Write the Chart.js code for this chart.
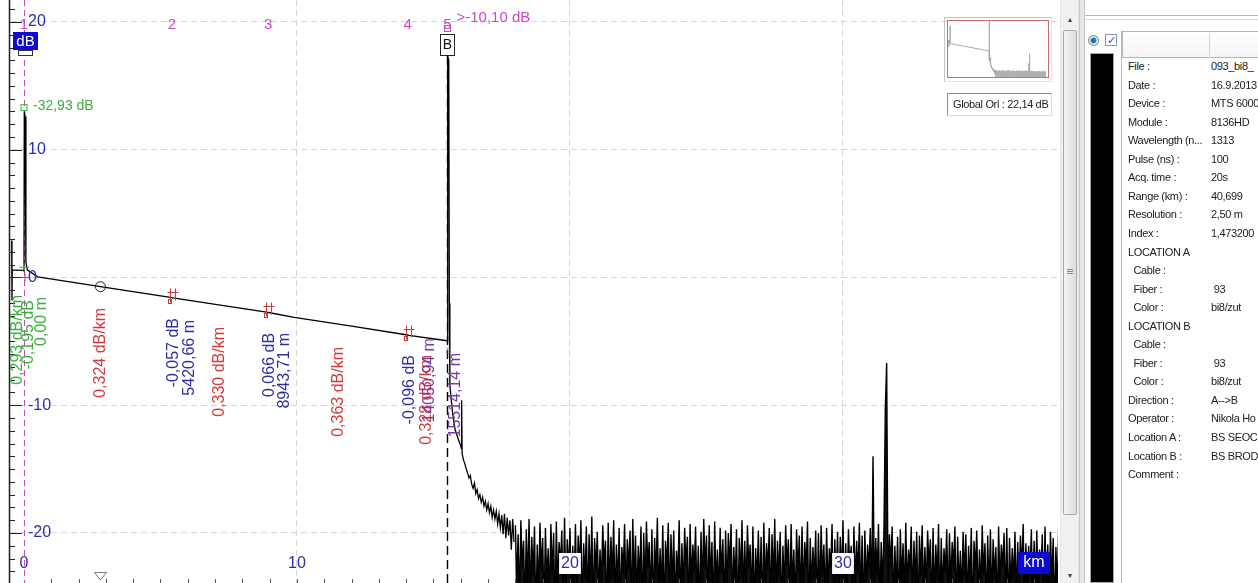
<!DOCTYPE html>
<html>
<head>
<meta charset="utf-8">
<title>OTDR trace</title>
<script src="https://cdn.jsdelivr.net/npm/chart.js@4.4.1/dist/chart.umd.min.js"></script>
<style>
  body { margin: 0; width: 1258px; height: 583px; overflow: hidden; background: #fff; position: relative; font-family: "Liberation Sans", Arial, sans-serif; }
  .abs { position: absolute; box-sizing: border-box; }
  #trace { position: absolute; left: 0; top: 0; }
  #thumbFrame { left: 944px; top: 17px; width: 108px; height: 65px; border: 1px solid #c4c4c4; border-right-color: #e4e4e4; border-bottom-color: #e4e4e4; }
  #thumbBox { left: 947px; top: 20px; width: 102px; height: 58px; border: 1px solid #cf6a6a; background: #fff; }
  #thumb { display: block; }
  #orl { left: 947px; top: 93px; width: 105px; height: 23px; border: 1px solid #8c8c8c; border-right-color: #dcdcdc; border-bottom-color: #dcdcdc; font-size: 11px; letter-spacing: -0.35px; line-height: 21px; padding-left: 5px; color: #222; white-space: nowrap; }
  #sbTrack { left: 1060px; top: 0; width: 19px; height: 583px; background: #f0f0f0; border-left: 1px solid #e4e4e4; border-right: 1px solid #e4e4e4; }
  #sbThumb { left: 1063px; top: 30px; width: 14px; height: 485px; border: 1px solid #a9a9a9; border-radius: 2px; background: linear-gradient(to right, #f6f6f6, #dcdcdc); }
  .grip { left: 1067px; width: 6px; height: 1px; background: #8a8a8a; }
  .arrow { left: 1065px; width: 10px; font-size: 7px; color: #444; text-align: center; }
  #sep { left: 1079px; top: 0; width: 6px; height: 583px; background: #e6e6e6; border-left: 1px solid #c8c8c8; border-right: 1px solid #c8c8c8; }
  #panelTop1 { left: 1085px; top: 15px; width: 173px; height: 1px; background: #b8b8b8; }
  #panelTop2 { left: 1085px; top: 19px; width: 173px; height: 1px; background: #dadada; }
  #radio { left: 1088px; top: 35px; width: 11px; height: 11px; border-radius: 50%; border: 1px solid #7a7a7a; background: radial-gradient(circle, #1f6fa8 30%, #5fb0dc 45%, #e6f2f8 55%); }
  #check { left: 1105px; top: 34px; width: 12px; height: 12px; border: 1px solid #7f98c0; background: #fff; color: #2a46c4; font-size: 11px; line-height: 11px; text-align: center; }
  #blackbar { left: 1090px; top: 53px; width: 24px; height: 530px; background: #000; border: 1px solid #a8a8a8; }
  #table { left: 1121px; top: 31px; width: 137px; height: 552px; background: #fff; border-left: 1px solid #bcbcbc; }
  #hdr { left: 1122px; top: 31px; width: 140px; height: 27px; border: 1px solid #b6b6b6; background: linear-gradient(#ffffff, #f4f4f4); }
  #hdrDiv { left: 1209px; top: 33px; width: 1px; height: 23px; background: #d4d4d4; }
  .row { left: 1128px; width: 130px; height: 18px; font-size: 11px; letter-spacing: -0.35px; line-height: 18px; color: #222; white-space: pre; overflow: hidden; }
  .val { position: absolute; left: 83px; top: 0; }
</style>
</head>
<body>
<canvas id="trace" width="1060" height="583"></canvas>
<div class="abs" id="thumbFrame"></div>
<div class="abs" id="thumbBox"><canvas id="thumb" width="100" height="56"></canvas></div>
<div class="abs" id="orl"></div>
<div class="abs" id="sbTrack"></div>
<div class="abs arrow" style="top:16px">&#9650;</div>
<div class="abs" id="sbThumb"></div>
<div class="abs grip" style="top:269px"></div>
<div class="abs grip" style="top:271px"></div>
<div class="abs grip" style="top:273px"></div>
<div class="abs arrow" style="top:572px">&#9660;</div>
<div class="abs" id="sep"></div>
<div class="abs" id="panelTop1"></div>
<div class="abs" id="panelTop2"></div>
<div class="abs" id="radio"></div>
<div class="abs" id="check">&#10003;</div>
<div class="abs" id="blackbar"></div>
<div class="abs" id="table"></div>
<div class="abs" id="hdr"></div>
<div class="abs" id="hdrDiv"></div>
<div id="rows"></div>

<script>
// fibre section of the trace, km / dB
const traceKm = [-0.45, -0.44, -0.43, -0.02, 0, 0.01, 0.04, 0.07, 0.12, 0.5, 2.8, 5.42, 5.45, 8.94, 9.0, 9.9, 12.0, 14.05, 14.1, 15.5,
  15.52, 15.56, 15.58, 15.6, 15.7, 15.79, 15.9, 16.0, 16.02, 16.03, 16.05, 16.1, 16.15, 16.2, 16.25, 16.3, 16.35, 16.4, 16.45, 16.5,
  16.55, 16.6, 16.65, 16.7, 16.75, 16.8, 16.85, 16.9, 16.95, 17.0, 17.05, 17.1, 17.15, 17.2, 17.25, 17.3, 17.35, 17.4, 17.45, 17.5,
  17.55, 17.6, 17.65, 17.7, 17.75, 17.8, 17.85, 17.9, 17.95];
const traceDb = [2.9, -1.8, 0.6, 0.55, 0.5, 13.0, 12.6, 1.2, 0.6, 0.05, -0.72, -1.57, -1.6, -2.73, -2.76, -3.12, -3.8, -4.5, -4.53, -4.95,
  17.3, 17.0, -2.0, -8.5, -10.6, -11.9, -12.6, -13.2, -13.4, -9.6, -13.8, -14.3, -14.6, -15.0, -15.3, -15.7, -15.5, -16.2, -16.5, -16.1,
  -16.9, -16.6, -17.3, -17.0, -17.6, -17.2, -17.9, -17.5, -18.2, -17.7, -18.4, -17.9, -18.8, -18.2, -18.9, -18.3, -19.3, -18.5, -19.6, -18.6,
  -20.1, -18.5, -20.4, -18.8, -20.2, -19.0, -21.3, -18.9, -20.7];

// noise floor after the fibre end, one sample every 0.05 km from 18 km
const noiseStartKm = 18.0;
const noiseStepKm = 0.05;
const noiseDb = [
  -19.4, -23.8, -20.1, -25.6, -19.0, -22.7, -20.6, -26.2, -19.7, -24.1,
  -18.9, -25.3, -20.3, -23.4, -19.5, -27.0, -20.9, -24.6, -19.2, -22.9,
  -20.4, -26.5, -19.6, -24.0, -21.2, -25.1, -19.3, -23.3, -20.0, -26.8,
  -19.1, -24.4, -20.7, -22.6, -19.8, -25.9, -18.8, -24.8, -20.5, -23.1,
  -19.6, -26.0, -21.0, -24.2, -19.3, -25.4, -20.2, -22.8, -19.0, -26.3,
  -20.8, -23.7, -19.5, -25.7, -20.1, -24.5, -18.7, -26.6, -20.4, -23.0,
  -19.9, -25.2, -21.3, -24.1, -19.4, -22.5, -20.6, -26.9, -19.2, -24.7,
  -20.3, -23.6, -19.0, -25.8, -20.9, -24.3, -19.6, -26.1, -21.1, -23.2,
  -19.3, -25.0, -20.5, -22.9, -19.8, -26.4, -18.9, -24.0, -20.2, -25.5,
  -21.0, -23.9, -19.5, -26.7, -20.0, -24.6, -19.1, -22.7, -20.7, -25.3,
  -19.7, -26.2, -20.4, -23.5, -18.8, -25.1, -21.2, -24.4, -19.4, -26.8,
  -20.6, -22.8, -19.2, -25.6, -20.1, -24.2, -19.8, -26.0, -21.4, -23.4,
  -19.0, -25.9, -20.8, -24.7, -19.6, -22.6, -20.3, -26.5, -19.3, -24.0,
  -20.9, -23.1, -19.5, -25.4, -21.0, -26.3, -19.9, -24.5, -18.9, -22.9,
  -20.2, -25.7, -19.4, -23.8, -20.7, -26.6, -19.1, -24.3, -21.3, -25.0,
  -19.6, -23.3, -20.5, -26.1, -19.8, -24.8, -20.0, -22.7, -19.3, -25.8,
  -21.1, -24.1, -19.7, -26.9, -20.4, -23.6, -19.0, -25.2, -20.6, -24.6,
  -19.4, -22.8, -20.9, -25.5, -19.5, -26.2, -21.2, -23.9, -19.8, -25.1,
  -20.3, -26.7, -19.2, -24.4, -20.8, -22.9, -19.6, -25.9, -20.1, -24.0,
  -18.9, -25.3, -20.6, -23.5, -19.9, -26.4, -21.0, -24.7, -19.4, -22.6,
  -20.5, -25.6, -19.3, -24.2, -21.3, -26.0, -19.7, -23.2, -20.2, -25.4,
  -19.5, -24.9, -20.7, -22.8, -19.1, -26.6, -20.4, -24.3, -21.1, -23.7,
  -19.8, -26.3, -20.0, -25.0, -19.4, -23.4, -20.9, -25.7, -19.6, -24.5,
  -21.2, -22.7, -19.3, -26.8, -20.5, -24.1, -19.9, -25.2, -20.3, -23.6,
  -19.0, -25.8, -20.8, -24.6, -19.7, -22.9, -21.0, -26.2, -19.5, -24.0,
  -20.6, -23.3, -19.2, -25.5, -20.2, -26.5, -19.8, -24.4, -20.9, -22.8,
  -19.6, -25.1, -14.0, -24.7, -20.4, -23.5, -19.3, -26.0, -20.7, -24.2,
  -19.9, -10.3, -6.7, -24.8, -20.1, -22.6, -19.5, -25.9, -21.0, -24.3,
  -20.3, -26.4, -19.7, -23.8, -20.8, -25.3, -19.2, -24.6, -21.3, -22.9,
  -19.5, -25.6, -20.6, -24.0, -19.9, -26.7, -20.2, -23.4, -19.4, -25.0,
  -21.1, -24.5, -19.8, -22.7, -20.5, -26.1, -19.6, -25.4, -20.9, -23.7,
  -19.3, -26.3, -20.4, -24.8, -21.2, -23.1, -19.7, -25.7, -20.0, -24.2,
  -20.7, -22.8, -19.5, -26.5, -20.3, -24.4, -21.4, -25.2, -19.9, -23.5,
  -20.1, -25.9, -21.0, -24.0, -19.6, -26.8, -20.6, -22.9, -19.8, -25.5,
  -21.3, -24.7, -19.4, -23.3, -20.8, -26.0, -20.2, -24.9, -19.7, -25.8,
  -20.5, -23.6, -21.1, -26.3, -19.5, -24.1, -20.9, -22.7, -20.0, -25.6,
  -19.6, -26.6, -20.4, -24.5, -21.2, -23.8, -19.9, -25.3, -20.7, -24.0,
  -20.2, -22.9, -19.3, -26.1, -20.8, -25.0, -21.0, -23.5, -19.7, -26.4,
  -20.6, -24.3, -19.8, -25.7, -21.3, -23.2, -20.1, -26.2, -19.5, -24.8,
  -20.9, -25.4, -19.9, -23.9, -20.4, -26.5, -21.1, -24.6, -19.6, -25.1
];

const gridKm = [10, 20, 30];
const gridDb = [-20, -10, 0, 10, 20];
const kmLabels = [0, 10, 20, 30];

const markerKm = [0, 5.4207, 8.9437, 14.05, 15.5141];
const markerNames = ['1', '2', '3', '4', '5'];
const eventLoss = ['-0,195 dB', '-0,057 dB', '0,066 dB', '-0,096 dB'];
const eventDist = ['0,00 m', '5420,66 m', '8943,71 m', '14050,94 m', '15514,14 m'];
const sectionSlope = ['0,293 dB/km', '0,324 dB/km', '0,330 dB/km', '0,363 dB/km', '0,328 dB/km'];
const startLevel = '-32,93 dB';
const endReflect = '>-10,10 dB';
const globalOrl = 'Global Orl : 22,14 dB';

const infoLabels = ['File :', 'Date :', 'Device :', 'Module :', 'Wavelength (n...', 'Pulse (ns) :', 'Acq. time :', 'Range (km) :',
  'Resolution :', 'Index :', 'LOCATION A', '  Cable :', '  Fiber :', '  Color :', 'LOCATION B', '  Cable :', '  Fiber :', '  Color :',
  'Direction :', 'Operator :', 'Location A :', 'Location B :', 'Comment :'];
const infoValues = ['093_bi8_', '16.9.2013', 'MTS 6000', '8136HD', '1313', '100', '20s', '40,699', '2,50 m', '1,473200', '', '',
  ' 93', 'bi8/zut', '', '', ' 93', 'bi8/zut', 'A-->B', 'Nikola Ho', 'BS SEOC', 'BS BROD', ''];

const NAVY = '#2e2ea8', RED = '#d03a3a', GREEN = '#3fae3f', MAGENTA = '#c848c8', PURPLE = '#7a3c9e', BLUEBOX = '#0a0ad4';
const FONT = '"Liberation Sans", Arial, sans-serif';

const trace = traceKm.map((k, i) => ({ x: k, y: traceDb[i] }));
const noise = noiseDb.map((d, i) => ({ x: noiseStartKm + i * noiseStepKm, y: d }));

function levelAt(km) {
  for (let i = 1; i < traceKm.length; i++) {
    if (traceKm[i] >= km) {
      const t = (km - traceKm[i - 1]) / (traceKm[i] - traceKm[i - 1]);
      return traceDb[i - 1] + t * (traceDb[i] - traceDb[i - 1]);
    }
  }
  return traceDb[traceDb.length - 1];
}

function seg(ctx, x1, y1, x2, y2) {
  ctx.beginPath(); ctx.moveTo(x1, y1); ctx.lineTo(x2, y2); ctx.stroke();
}

function text(ctx, s, px, py, color, size, align) {
  ctx.font = size + 'px ' + FONT;
  ctx.fillStyle = color;
  ctx.textAlign = align || 'left';
  ctx.textBaseline = 'middle';
  ctx.fillText(s, px, py);
}

// rotated label, reads upwards, its end sits at py
function vtext(ctx, s, px, py, color, size) {
  ctx.save();
  ctx.translate(px, py);
  ctx.rotate(-Math.PI / 2);
  text(ctx, s, 0, 0, color, size, 'right');
  ctx.restore();
}

function cross(ctx, px, py, r, color) {
  ctx.strokeStyle = color; ctx.lineWidth = 1;
  seg(ctx, px - r, py, px + r, py);
  seg(ctx, px, py - r, px, py + r);
}

const overlay = {
  id: 'overlay',
  beforeDatasetsDraw(chart) {
    const { ctx, chartArea: a, scales: { x } } = chart;
    ctx.save();
    ctx.setLineDash([6, 4]);
    ctx.strokeStyle = MAGENTA; ctx.lineWidth = 1;
    const mx = Math.round(x.getPixelForValue(markerKm[0])) + 0.5;
    seg(ctx, mx, a.top, mx, a.bottom);
    ctx.setLineDash([9, 5]);
    ctx.strokeStyle = '#000'; ctx.lineWidth = 1.4;
    const bx = Math.round(x.getPixelForValue(markerKm[4])) - 0.5;
    seg(ctx, bx, 56, bx, a.bottom);
    ctx.restore();
  },
  afterDatasetsDraw(chart) {
    const { ctx, chartArea: a, scales: { x, y } } = chart;
    const X = v => x.getPixelForValue(v);
    const Y = v => y.getPixelForValue(v);
    ctx.save();

    // y axis with 1 dB ticks
    ctx.strokeStyle = '#222'; ctx.lineWidth = 1.5;
    seg(ctx, a.left - 1.5, a.top, a.left - 1.5, a.bottom);
    ctx.lineWidth = 1;
    for (let d = -23; d <= 21; d++) {
      const len = d % 10 === 0 ? 12 : 5;
      const py = Math.round(Y(d)) + 0.5;
      seg(ctx, a.left - 1, py, a.left - 1 + len, py);
    }
    // km ticks along the bottom
    ctx.strokeStyle = '#555';
    for (let k = 1; k <= 37; k++) {
      const px = Math.round(X(k)) + 0.5;
      seg(ctx, px, a.bottom - 4, px, a.bottom);
    }
    // triangle under the circle marker
    ctx.strokeStyle = '#777'; ctx.fillStyle = '#fff';
    ctx.beginPath();
    ctx.moveTo(X(2.8) - 6, 572.5); ctx.lineTo(X(2.8) + 6, 572.5); ctx.lineTo(X(2.8), 580);
    ctx.closePath(); ctx.fill(); ctx.stroke();

    // axis labels
    gridDb.forEach(d => text(ctx, String(d), a.left + 17, Y(d), NAVY, 16));
    kmLabels.forEach(k => {
      ctx.font = '16px ' + FONT;
      const w = ctx.measureText(String(k)).width;
      if (k >= 20) { ctx.fillStyle = '#fff'; ctx.fillRect(X(k) - w / 2 - 2, 553, w + 4, 21); }
      text(ctx, String(k), X(k), 564, NAVY, 16, 'center');
    });
    ctx.fillStyle = BLUEBOX;
    ctx.fillRect(1018, 552, 32, 22);
    text(ctx, 'km', 1034, 563, '#fff', 16, 'center');
    ctx.fillStyle = BLUEBOX;
    ctx.fillRect(13, 32, 25, 18);
    text(ctx, 'dB', 25.5, 41.5, '#fff', 15, 'center');
    ctx.fillStyle = '#fff'; ctx.strokeStyle = '#333';
    ctx.fillRect(18.5, 50.5, 14, 5); ctx.strokeRect(18.5, 50.5, 14, 5);

    // marker numbers
    markerKm.forEach((k, i) => text(ctx, markerNames[i], X(k), 25, MAGENTA, 15, 'center'));
    const bx = Math.round(X(markerKm[4])) - 0.5;
    ctx.strokeStyle = MAGENTA; ctx.lineWidth = 1;
    ctx.strokeRect(bx - 3, 25.5, 6, 6);
    text(ctx, endReflect, bx + 9, 18, MAGENTA, 15);
    ctx.fillStyle = '#fff'; ctx.strokeStyle = '#222';
    ctx.fillRect(bx - 7, 34.5, 14, 21); ctx.strokeRect(bx - 7, 34.5, 14, 21);
    text(ctx, 'B', bx, 45.5, '#111', 14, 'center');

    // start of the fibre
    ctx.strokeStyle = GREEN;
    ctx.strokeRect(X(0) - 3, Y(13.3) - 3, 6, 6);
    text(ctx, startLevel, X(0) + 9, Y(13.4), GREEN, 14);
    cross(ctx, X(0), Y(0.8), 5, GREEN);
    cross(ctx, X(0) + 1, Y(0), 4, RED);

    // event marks on the backscatter slope
    for (let i = 1; i <= 3; i++) {
      const px = Math.round(X(markerKm[i])) + 0.5;
      const py = Math.round(Y(levelAt(markerKm[i]))) + 0.5;
      ctx.strokeStyle = RED; ctx.lineWidth = 1;
      seg(ctx, px - 2, py - 10, px - 2, py + 4);
      seg(ctx, px + 3, py - 10, px + 3, py + 2);
      seg(ctx, px - 5, py - 6, px + 6, py - 6);
      ctx.strokeRect(px - 4, py + 1, 3, 4);
    }
    ctx.strokeStyle = '#222'; ctx.lineWidth = 1;
    ctx.beginPath(); ctx.arc(X(2.8), Y(levelAt(2.8)), 5, 0, Math.PI * 2); ctx.stroke();
    text(ctx, '8', X(15.55), Y(-5.8), PURPLE, 9, 'center');

    // rotated event texts
    vtext(ctx, sectionSlope[0], X(-0.22), Y(-1.37), GREEN, 16);
    vtext(ctx, eventLoss[0], X(0.18), Y(-1.76), GREEN, 16);
    vtext(ctx, eventDist[0], X(0.66), Y(-1.53), GREEN, 16);
    vtext(ctx, sectionSlope[1], X(2.82), Y(-2.39), RED, 16);
    vtext(ctx, eventLoss[1], X(5.49), Y(-3.17), NAVY, 16);
    vtext(ctx, eventDist[1], X(6.08), Y(-3.33), NAVY, 16);
    vtext(ctx, sectionSlope[2], X(7.18), Y(-3.87), RED, 16);
    vtext(ctx, eventLoss[2], X(9.01), Y(-4.34), NAVY, 16);
    vtext(ctx, eventDist[2], X(9.56), Y(-4.34), NAVY, 16);
    vtext(ctx, sectionSlope[3], X(11.54), Y(-5.44), RED, 16);
    vtext(ctx, eventLoss[3], X(14.14), Y(-6.07), NAVY, 16);
    vtext(ctx, sectionSlope[4], X(14.76), Y(-6.07), RED, 16);
    vtext(ctx, eventDist[3], X(14.84), Y(-4.74), PURPLE, 16);
    vtext(ctx, eventDist[4], X(15.82), Y(-5.91), PURPLE, 16);

    ctx.restore();
  }
};

new Chart(document.getElementById('trace'), {
  type: 'line',
  data: {
    datasets: [
      { data: trace, borderColor: '#000', borderWidth: 1.3, pointRadius: 0, tension: 0, fill: false },
      { data: noise, borderColor: '#000', borderWidth: 1.4, pointRadius: 0, tension: 0, fill: 'start', backgroundColor: '#111' }
    ]
  },
  options: {
    responsive: false,
    animation: false,
    events: [],
    layout: { padding: { left: 11, right: 2, top: 0, bottom: 0 } },
    plugins: { legend: { display: false }, tooltip: { enabled: false } },
    scales: {
      x: {
        type: 'linear', min: -0.476, max: 37.876,
        afterBuildTicks: s => { s.ticks = gridKm.map(v => ({ value: v })); },
        ticks: { display: false },
        grid: { color: '#d4d4d4', drawTicks: false },
        border: { display: false, dash: [6, 4] }
      },
      y: {
        type: 'linear', min: -23.914, max: 21.722,
        afterBuildTicks: s => { s.ticks = gridDb.map(v => ({ value: v })); },
        ticks: { display: false },
        grid: { color: '#d4d4d4', drawTicks: false },
        border: { display: false, dash: [6, 4] }
      }
    }
  },
  plugins: [overlay]
});

// overview thumbnail, same data in grey
new Chart(document.getElementById('thumb'), {
  type: 'line',
  data: {
    datasets: [
      { data: trace, borderColor: '#a8a8a8', borderWidth: 1, pointRadius: 0, fill: false },
      { data: noise, borderColor: '#b0b0b0', borderWidth: 1, pointRadius: 0, fill: 'start', backgroundColor: '#c4c4c4' }
    ]
  },
  options: {
    responsive: false,
    animation: false,
    events: [],
    layout: { padding: 0 },
    plugins: { legend: { display: false }, tooltip: { enabled: false } },
    scales: {
      x: { type: 'linear', min: -0.8, max: 38.9, display: false },
      y: { type: 'linear', min: -23.6, max: 16.4, display: false }
    }
  }
});

document.getElementById('orl').textContent = globalOrl;

const rows = document.getElementById('rows');
infoLabels.forEach((lab, i) => {
  const r = document.createElement('div');
  r.className = 'abs row';
  r.style.top = (57 + i * 18.55) + 'px';
  r.textContent = lab;
  const v = document.createElement('span');
  v.className = 'val';
  v.textContent = infoValues[i];
  r.appendChild(v);
  rows.appendChild(r);
});
</script>
</body>
</html>
